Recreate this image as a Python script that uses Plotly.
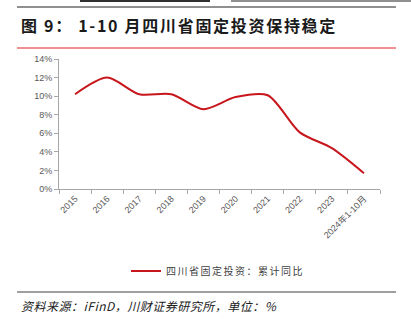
import plotly.graph_objects as go

categories = ["2015", "2016", "2017", "2018", "2019", "2020", "2021", "2022", "2023", "2024年1-10月"]
values = [10.2, 12.0, 10.2, 10.2, 8.6, 9.9, 10.1, 6.1, 4.4, 1.7]
y_ticks = [0, 2, 4, 6, 8, 10, 12, 14]
y_labels = [f"{v}%" for v in y_ticks]

series_name = "四川省固定投资：累计同比"
title_text = "图 9： 1-10 月四川省固定投资保持稳定"
source_text = "资料来源：iFinD，川财证券研究所，单位：%"

W, H = 411, 325
L, R, T, B = 59, 31, 59, 136

fig = go.Figure()
fig.add_trace(go.Scatter(
    x=categories, y=values, mode="lines",
    name='<span style="letter-spacing:1.5px">' + series_name + "</span>",
    line=dict(color="#c8161d", width=2, shape="spline", smoothing=0.8),
))

def px_x(p):
    return (p - L) / (W - L - R)

def px_y(p):
    return (H - B - p) / (H - T - B)

fig.update_layout(
    width=W, height=H, autosize=False,
    margin=dict(l=L, r=R, t=T, b=B),
    paper_bgcolor="white", plot_bgcolor="white",
    font=dict(family="Liberation Sans, Arial, sans-serif", color="#595959", size=9),
    showlegend=True,
    legend=dict(orientation="h", x=px_x(126), xanchor="left", y=px_y(271), yanchor="middle",
                font=dict(family="Noto Sans CJK SC", size=10, color="#404040"),
                bgcolor="rgba(0,0,0,0)"),
    xaxis=dict(type="category", range=[-0.5, 9.5], tickangle=-45, showgrid=False,
               showline=True, linecolor="#a6a6a6", linewidth=1,
               ticks="outside", ticklen=4, tickcolor="#a6a6a6", tickson="boundaries",
               tickfont=dict(family="Liberation Sans, Noto Sans CJK SC", size=9, color="#595959"),
               fixedrange=True),
    yaxis=dict(range=[0, 14], tickvals=y_ticks, ticktext=y_labels, showgrid=False,
               showline=True, linecolor="#a6a6a6", linewidth=1, zeroline=False,
               ticks="outside", ticklen=4, tickcolor="#a6a6a6",
               tickfont=dict(family="Liberation Sans", size=9, color="#595959"),
               fixedrange=True),
    shapes=[
        dict(type="line", xref="paper", yref="paper", x0=px_x(17), x1=px_x(396), y0=px_y(7), y1=px_y(7),
             line=dict(color="#202020", width=1)),
        dict(type="line", xref="paper", yref="paper", x0=px_x(231), x1=px_x(411), y0=px_y(1), y1=px_y(1),
             line=dict(color="#202020", width=1)),
        dict(type="rect", xref="paper", yref="paper", x0=px_x(80), x1=px_x(210), y0=px_y(0), y1=px_y(2),
             line=dict(width=0), fillcolor="#303030"),
        dict(type="line", xref="paper", yref="paper", x0=px_x(17), x1=px_x(396), y0=px_y(48), y1=px_y(48),
             line=dict(color="#e02020", width=1)),
        dict(type="line", xref="paper", yref="paper", x0=px_x(17), x1=px_x(396), y0=px_y(292), y1=px_y(292),
             line=dict(color="#404040", width=1)),
    ],
    annotations=[
        dict(text='<span style="letter-spacing:1.7px">' + title_text + "</span>",
             xref="paper", yref="paper", x=px_x(19), y=px_y(25),
             xanchor="left", yanchor="middle", showarrow=False,
             font=dict(family="Noto Sans CJK SC", size=16, color="#1a1a1a", weight="bold")),
        dict(text='<span style="letter-spacing:0.5px">' + source_text + "</span>",
             xref="paper", yref="paper", x=px_x(19), y=px_y(305),
             xanchor="left", yanchor="middle", showarrow=False,
             font=dict(family="Noto Sans CJK SC", size=12, color="#202020", style="italic")),
    ],
)

fig.write_html("out.html")
